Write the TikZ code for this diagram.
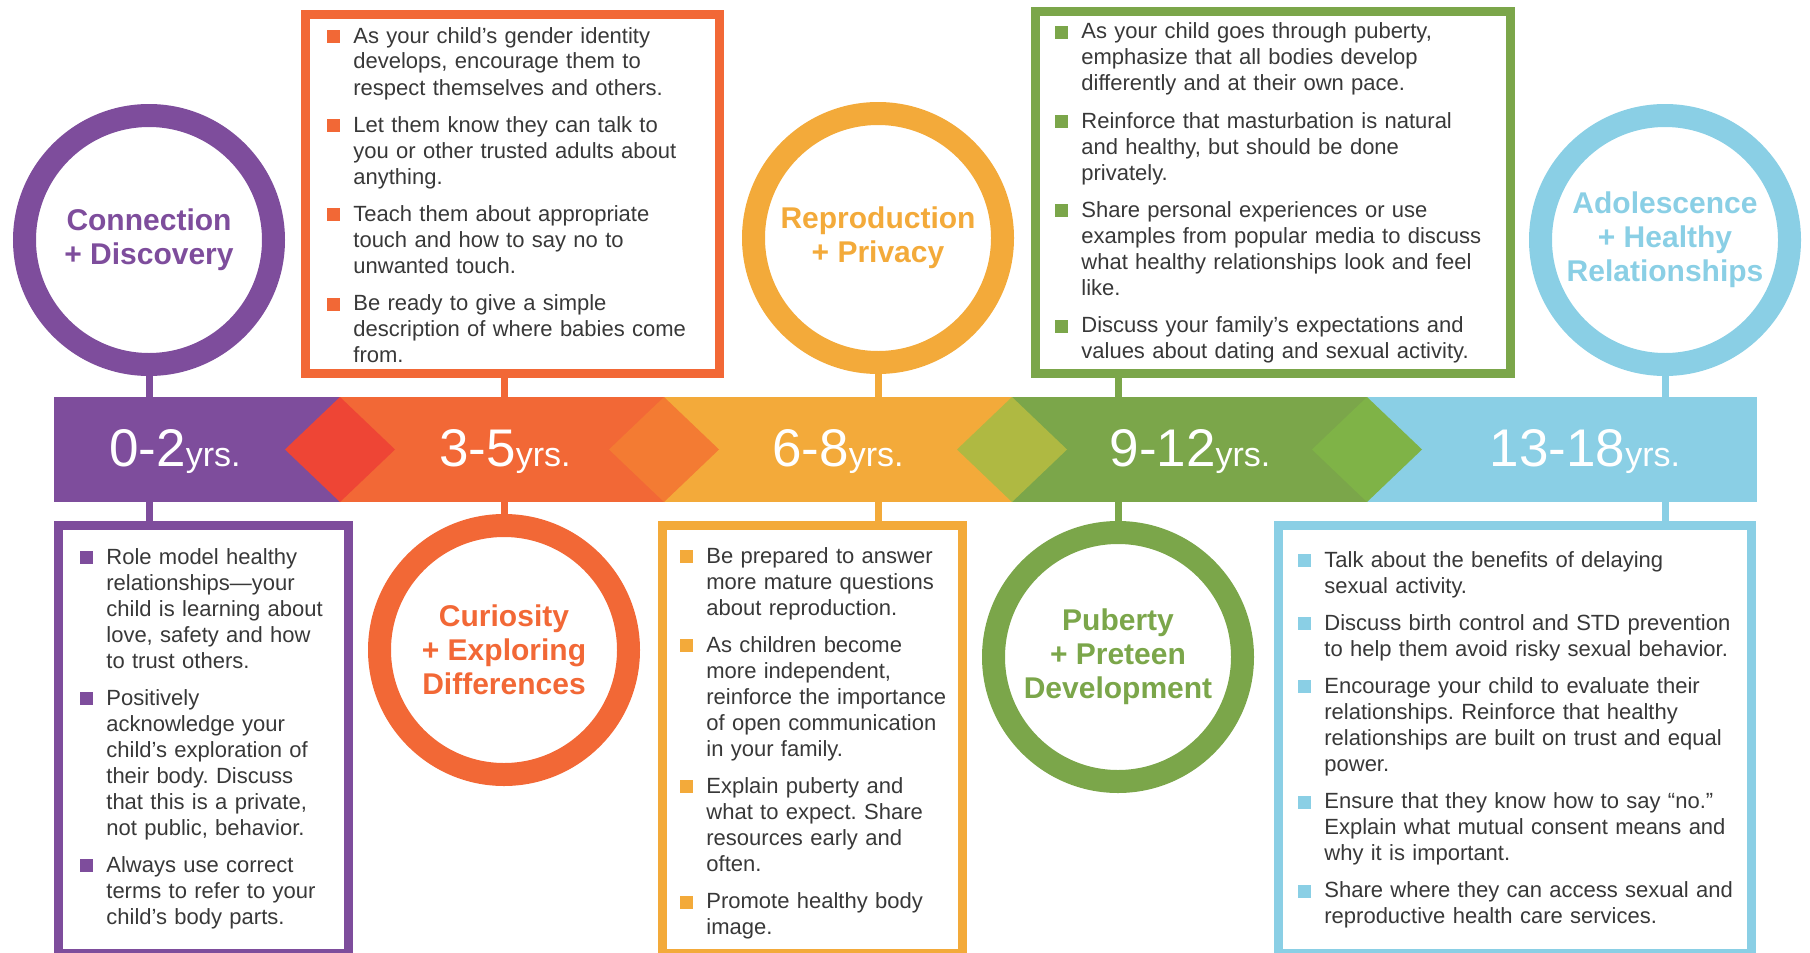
\documentclass[tikz,border=0pt]{standalone}
\usepackage{fontspec}
\setmainfont{Liberation Sans}
\usetikzlibrary{shapes.geometric}
\frenchspacing

\definecolor{purpleC}{HTML}{7E4D9C}
\definecolor{orangeC}{HTML}{F26836}
\definecolor{yellowC}{HTML}{F3AA3A}
\definecolor{greenC}{HTML}{7BA64A}
\definecolor{blueC}{HTML}{8ACFE5}
\definecolor{redD}{HTML}{EE4535}
\definecolor{orangeD}{HTML}{F37B33}
\definecolor{oliveD}{HTML}{AFB942}
\definecolor{greenD}{HTML}{7FB347}
\definecolor{txtgray}{HTML}{383838}

\newcommand{\bitem}[1]{\leavevmode\llap{\textcolor{#1}{\rule{6.5pt}{6.5pt}}\hspace{6.5pt}}}
\newcommand{\yrs}[1]{{\fontsize{26.5}{26.5}\selectfont #1}{\fontsize{17}{17}\selectfont yrs.}}

\begin{document}
\begin{tikzpicture}[x=0.5pt, y=-0.5pt,
  stage node/.style={circle,draw,line width=11.5pt,minimum size=124.5pt,inner sep=0pt,align=center,font=\fontsize{15}{17}\selectfont\bfseries},
  tip box/.style={draw,line width=4.75pt,inner sep=0pt},
  tip text/.style={anchor=base west,inner sep=0pt,text width=240pt,align=left,text=txtgray,font=\fontsize{11}{13}\selectfont},
  bar part/.style={rectangle,minimum height=52.5pt,inner sep=0pt,outer sep=0pt},
  joint/.style={diamond,minimum width=55pt,minimum height=52.5pt,inner sep=0pt,outer sep=0pt},
  year/.style={anchor=base,text=white,inner sep=0pt},
  link/.style={line width=3.5pt}]
\useasboundingbox (0,0) rectangle (1810,953);

% timeline bar
\node [bar part, fill=purpleC, minimum width=143pt] (seg02) at (197,449.5) {};
\node [bar part, fill=orangeC, minimum width=162pt] (seg35) at (502,449.5) {};
\node [bar part, fill=yellowC, minimum width=174pt] (seg68) at (838,449.5) {};
\node [bar part, fill=greenC, minimum width=177.5pt] (seg912) at (1189.5,449.5) {};
\node [bar part, fill=blueC, minimum width=195pt] (seg1318) at (1562,449.5) {};
\node [joint, fill=redD] (j1) at (340,449.5) {};
\node [joint, fill=orangeD] (j2) at (664,449.5) {};
\node [joint, fill=oliveD] (j3) at (1012,449.5) {};
\node [joint, fill=greenD] (j4) at (1367,449.5) {};
\node [year] (y02) at (175,466) {\yrs{0-2}};
\node [year] (y35) at (505,466) {\yrs{3-5}};
\node [year] (y68) at (838,466) {\yrs{6-8}};
\node [year] (y912) at (1190,466) {\yrs{9-12}};
\node [year] (y1318) at (1585,466) {\yrs{13-18}};

% stage circles
\node [stage node, purpleC] (c02) at (149,240) {Connection\\+ Discovery};
\node [stage node, orangeC] (c35) at (504,650) {Curiosity\\+ Exploring\\Differences};
\node [stage node, yellowC] (c68) at (878,238) {Reproduction\\+ Privacy};
\node [stage node, greenC] (c912) at (1118,657) {Puberty\\+ Preteen\\Development};
\node [stage node, blueC] (c1318) at (1665,240) {Adolescence\\+ Healthy\\Relationships};

% tip boxes
\node [tip box, purpleC, minimum width=145pt, minimum height=214pt] (b02) at (203.5,739.5) {};
\node [tip box, orangeC, minimum width=207pt, minimum height=179.5pt] (b35) at (512.5,194) {};
\node [tip box, yellowC, minimum width=150pt, minimum height=214pt] (b68) at (812.5,739.5) {};
\node [tip box, greenC, minimum width=237.5pt, minimum height=181pt] (b912) at (1273,192.5) {};
\node [tip box, blueC, minimum width=236.5pt, minimum height=214pt] (b1318) at (1515,739.5) {};

\draw [link, purpleC] (c02.south) -- (c02.south |- seg02.north);
\draw [link, purpleC] (c02 |- seg02.south) -- (c02 |- b02.north);
\draw [link, orangeC] (c35 |- b35.south) -- (c35 |- seg35.north);
\draw [link, orangeC] (c35 |- seg35.south) -- (c35.north);
\draw [link, yellowC] (c68.south) -- (c68.south |- seg68.north);
\draw [link, yellowC] (c68 |- seg68.south) -- (c68 |- b68.north);
\draw [link, greenC] (c912 |- b912.south) -- (c912 |- seg912.north);
\draw [link, greenC] (c912 |- seg912.south) -- (c912.north);
\draw [link, blueC] (c1318.south) -- (c1318.south |- seg1318.north);
\draw [link, blueC] (c1318 |- seg1318.south) -- (c1318 |- b1318.north);

% tip texts
\node [tip text] (t02) at (106,564) {\bitem{purpleC}Role model healthy\\
relationships—your\\ child is learning about\\ love, safety and how\\ to trust others.\\[5.6pt]
\bitem{purpleC}Positively\\ acknowledge your\\ child’s exploration of\\ their body. Discuss\\ that this is a private,\\ not public, behavior.\\[5.6pt]
\bitem{purpleC}Always use correct\\ terms to refer to your\\ child’s body parts.};
\node [tip text] (t35) at (353,43) {\bitem{orangeC}As your child’s gender identity\\
develops, encourage them to\\ respect themselves and others.\\[5.6pt]
\bitem{orangeC}Let them know they can talk to\\ you or other trusted adults about\\ anything.\\[5.6pt]
\bitem{orangeC}Teach them about appropriate\\ touch and how to say no to\\ unwanted touch.\\[5.6pt]
\bitem{orangeC}Be ready to give a simple\\ description of where babies come\\ from.};
\node [tip text] (t68) at (706,563) {\bitem{yellowC}Be prepared to answer\\
more mature questions\\ about reproduction.\\[5.6pt]
\bitem{yellowC}As children become\\ more independent,\\ reinforce the importance\\ of open communication\\ in your family.\\[5.6pt]
\bitem{yellowC}Explain puberty and\\ what to expect. Share\\ resources early and\\ often.\\[5.6pt]
\bitem{yellowC}Promote healthy body\\ image.};
\node [tip text] (t912) at (1081,39) {\bitem{greenC}As your child goes through puberty,\\
emphasize that all bodies develop\\ differently and at their own pace.\\[5.6pt]
\bitem{greenC}Reinforce that masturbation is natural\\ and healthy, but should be done\\ privately.\\[5.6pt]
\bitem{greenC}Share personal experiences or use\\ examples from popular media to discuss\\ what healthy relationships look and feel\\ like.\\[5.6pt]
\bitem{greenC}Discuss your family’s expectations and\\ values about dating and sexual activity.};
\node [tip text] (t1318) at (1324,567) {\bitem{blueC}Talk about the benefits of delaying\\
sexual activity.\\[5.6pt]
\bitem{blueC}Discuss birth control and STD prevention\\ to help them avoid risky sexual behavior.\\[5.6pt]
\bitem{blueC}Encourage your child to evaluate their\\ relationships. Reinforce that healthy\\ relationships are built on trust and equal\\ power.\\[5.6pt]
\bitem{blueC}Ensure that they know how to say “no.”\\ Explain what mutual consent means and\\ why it is important.\\[5.6pt]
\bitem{blueC}Share where they can access sexual and\\ reproductive health care services.};
\end{tikzpicture}
\end{document}
